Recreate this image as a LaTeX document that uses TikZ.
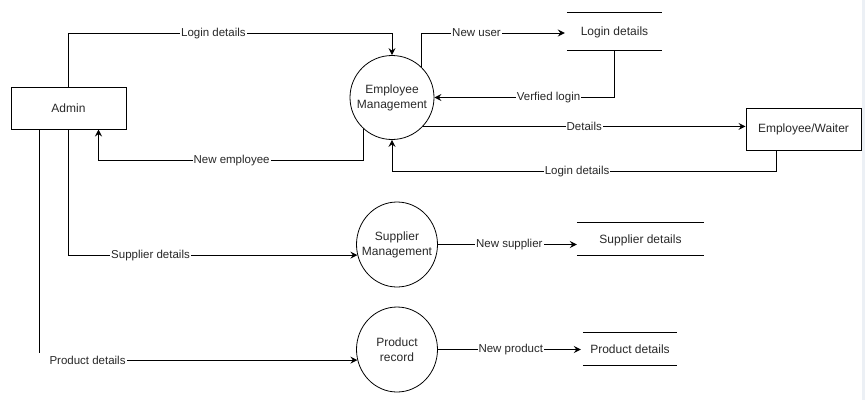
\documentclass[tikz,border=0pt]{standalone}
\usepackage{fontspec}
\setmainfont{Liberation Sans}
\usetikzlibrary{arrows.meta,calc,shapes.geometric}
\definecolor{txt}{RGB}{40,40,40}
\definecolor{strip}{RGB}{236,240,245}
\tikzset{
  ent/.style={draw, line width=1pt, minimum width=115pt, minimum height=42pt, inner sep=0pt,
    font=\fontsize{12}{14}\selectfont, text=txt},
  proc/.style={draw, line width=0.8pt, ellipse, inner sep=0pt},
  ptext/.style={inner sep=0pt, align=center, font=\fontsize{12}{15}\selectfont, text=txt},
  store/.style={inner sep=0pt, text depth=0pt, font=\fontsize{12}{14}\selectfont, text=txt},
  storeline/.style={line width=1pt},
  arr/.style={line width=1pt, -{Stealth[length=7pt,width=7pt,inset=2.5pt]}},
  lbl/.style={fill=white, inner sep=1pt, font=\fontsize{11.5}{13}\selectfont, text=txt},
}
\begin{document}
\begin{tikzpicture}[x=1pt,y=-1pt]
\useasboundingbox (0,0) rectangle (865,400);
\fill[strip] (862,0) rectangle (865,400);

% entities
\node[ent] (admin) at (68.5,108) {Admin};
\node[ent] (ew) at (803.5,129) {Employee/Waiter};

% processes
\node[proc, minimum width=84pt, minimum height=84pt] (em) at (392,97.5) {};
\node[ptext] (emt) at (em.center) {Employee\\Management};
\node[proc, minimum width=81pt, minimum height=85pt] (sm) at (397,244.5) {};
\node[ptext] (smt) at (sm.center) {Supplier\\Management};
\node[proc, minimum width=81pt, minimum height=85pt] (pr) at (397,349.5) {};
\node[ptext] (prt) at (pr.center) {Product\\record};

% stores
\node[store, minimum width=95pt, minimum height=37pt] (ld) at (614.5,31.5) {Login details};
\node[store, minimum width=127pt, minimum height=32pt] (sd) at (640.5,239) {Supplier details};
\node[store, minimum width=94pt, minimum height=32pt] (pd) at (630,349) {Product details};
\foreach \s in {ld,sd,pd}{
  \draw[storeline] (\s.north west) -- (\s.north east);
  \draw[storeline] (\s.south west) -- (\s.south east);
}

% connectors
\draw[arr] (admin.north) -- ++(0,-53) -| node[lbl,pos=0.224]{Login details} (em.north);
\draw[arr] (em.228) |- node[lbl,pos=0.749]{New employee} ($(admin.south east)+(-28,31)$) -- ($(admin.south east)+(-28,0)$);
\draw[arr] (em.46) |- node[lbl,pos=0.692]{New user} ($(ld.west)+(-2,1.5)$);
\draw[arr] (ld.south) |- node[lbl,pos=0.683]{Verfied login} (em.east);
\draw[arr] (em.-43) -- node[lbl,pos=0.5]{Details} (em.-43 -| ew.west);
\draw[arr] ($(ew.south)+(-27.5,0)$) -- ++(0,21) -| node[lbl,pos=0.259]{Login details} (em.south);
\draw[arr] (admin.south) |- node[lbl,pos=0.642]{Supplier details} (sm.195);
\draw[arr] ($(admin.south west)+(29,0)$) |- node[lbl,pos=0.5,anchor=west,xshift=-1.5pt,inner ysep=3pt]{\hspace*{10pt}Product details} (pr.195);
\draw[arr] (sm.east) -- node[lbl,pos=0.514]{New supplier} (sm.east -| sd.west);
\draw[arr] (pr.east) -- node[lbl,pos=0.51]{New product} ($(pr.east -| pd.west)+(-2,0)$);
\end{tikzpicture}
\end{document}
